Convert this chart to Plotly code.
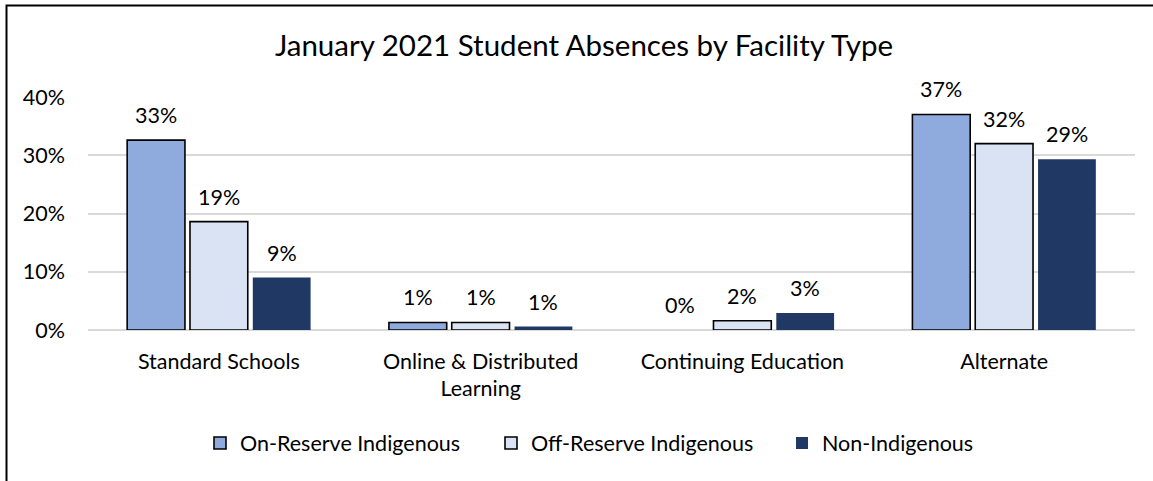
import plotly.graph_objects as go

categories = ["Standard Schools", "Online & Distributed<br>Learning", "Continuing Education", "Alternate"]
series_names = ["On-Reserve Indigenous", "Off-Reserve Indigenous", "Non-Indigenous"]
on_reserve = [0.326, 0.013, 0.0, 0.370]
off_reserve = [0.186, 0.013, 0.016, 0.320]
non_indigenous = [0.090, 0.006, 0.029, 0.293]
y_ticks = [0, 0.1, 0.2, 0.3, 0.4]

series_values = [on_reserve, off_reserve, non_indigenous]
colors = ["#8FAADC", "#DAE3F3", "#203864"]
line_widths = [1.6, 1.6, 0]

FONT = "Lato"
FS = 21.5
bargap = 0.28

W, H = 1153, 481

fig = go.Figure()
for name, vals, col, lw in zip(series_names, series_values, colors, line_widths):
    fig.add_trace(go.Bar(
        name=name, x=categories, y=vals,
        marker=dict(color=col,
                    line=dict(color="#000000", width=[lw if v > 0 else 0 for v in vals])),
        hoverinfo="skip",
    ))

n = len(series_values)
slot = (1 - bargap) / n
annotations = []
for i, vals in enumerate(series_values):
    for j, v in enumerate(vals):
        annotations.append(dict(
            x=j + (i - (n - 1) / 2) * slot, y=v, xref="x", yref="y",
            text=f"{round(v * 100):.0f}%", showarrow=False,
            yanchor="middle", yshift=25,
            font=dict(family=FONT, size=FS, color="#000000"),
        ))

# plot-area edges in pixels
px_l, px_r, px_t, px_b = 88, 1135, 96.7, 330
def px_to_paper_x(px):
    return (px - px_l) / (px_r - px_l)
def px_to_paper_y(py):
    return (px_b - py) / (px_b - px_t)

shapes = [dict(type="rect", xref="paper", yref="paper",
               x0=px_to_paper_x(6.5), x1=px_to_paper_x(1200),
               y0=px_to_paper_y(540), y1=px_to_paper_y(5),
               line=dict(color="#000000", width=2), fillcolor="rgba(0,0,0,0)", layer="above")]

fig.update_layout(
    width=W, height=H,
    margin=dict(l=px_l, r=W - px_r, t=px_t, b=H - px_b, pad=0),
    paper_bgcolor="#FFFFFF", plot_bgcolor="#FFFFFF",
    barmode="group", bargap=bargap, bargroupgap=0.08,
    font=dict(family=FONT, size=FS, color="#000000"),
    title=dict(text="January 2021 Student Absences by Facility Type",
               x=584 / W, xref="container", xanchor="center",
               y=1 - 46 / H, yref="container", yanchor="middle",
               font=dict(family=FONT, size=29.5, color="#000000")),
    xaxis=dict(showgrid=False, showline=False, ticks="", ticklabelstandoff=16,
               tickfont=dict(family=FONT, size=FS, color="#000000")),
    yaxis=dict(range=[0, 0.4], tickvals=y_ticks, tickformat=".0%",
               showgrid=True, gridcolor="#D9D9D9", gridwidth=1.5,
               zeroline=True, zerolinecolor="#D9D9D9", zerolinewidth=1.5,
               showline=False, ticks="", ticklabelstandoff=22,
               tickfont=dict(family=FONT, size=FS, color="#000000")),
    legend=dict(orientation="h", x=200 / W, xref="container", xanchor="left",
                y=1 - 443 / H, yref="container", yanchor="middle",
                font=dict(family=FONT, size=FS, color="#000000"),
                itemwidth=30, traceorder="normal", entrywidth=246, entrywidthmode="pixels"),
    annotations=annotations,
    shapes=shapes,
    showlegend=True,
)

fig.write_html("out.html", config={"displayModeBar": False},
               post_script="document.body.style.margin='0';document.body.style.overflow='hidden';")
